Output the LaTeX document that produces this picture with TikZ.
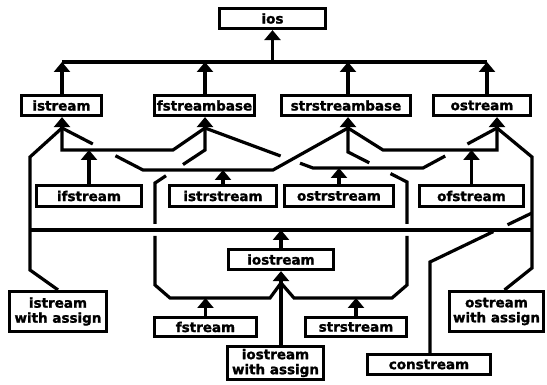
\documentclass[tikz,border=0pt]{standalone}
\usepackage{fontspec}
\setmainfont{DejaVu Sans}
\newfontfamily\boxfont{DejaVu Sans Bold}[FakeBold=1.5]
\usetikzlibrary{arrows.meta,calc}
\begin{document}
\begin{tikzpicture}[x=1pt,y=-1pt,
  cls/.style={draw,line width=3.2pt,inner sep=0pt,align=center,
    font=\boxfont\fontsize{13.5}{15}\selectfont},
  ln/.style={line width=3.2pt},
  up/.style={ln,-{Triangle[width=16pt,length=10pt]}},
]
\fill[white] (0,0) rectangle (547,385);
\path[use as bounding box] (0,0) rectangle (547,385);

% boxes
\node[cls,minimum width=106pt,minimum height=20pt] (ios) at (272.5,18.5) {ios};
\node[cls,minimum width=80pt,minimum height=20pt] (istream) at (61.5,105.5) {istream};
\node[cls,minimum width=100pt,minimum height=20pt] (fstreambase) at (204.5,105.5) {fstreambase};
\node[cls,minimum width=129pt,minimum height=20pt] (strstreambase) at (346,105.5) {strstreambase};
\node[cls,minimum width=97pt,minimum height=20pt] (ostream) at (482,105.5) {ostream};

\node[cls,minimum width=105pt,minimum height=21pt] (ifstream) at (89,196) {ifstream};
\node[cls,minimum width=107pt,minimum height=21pt] (istrstream) at (223,196) {istrstream};
\node[cls,minimum width=109pt,minimum height=21pt] (ostrstream) at (339,196) {ostrstream};
\node[cls,minimum width=104pt,minimum height=21pt] (ofstream) at (471.5,196) {ofstream};

\node[cls,minimum width=105pt,minimum height=20pt] (iostream) at (281,259.5) {iostream};

\node[cls,minimum width=97pt,minimum height=40pt] (iwa) at (58,311.5) {istream\\with assign};
\node[cls,minimum width=102pt,minimum height=19pt] (fstream) at (205.5,327) {fstream};
\node[cls,minimum width=101pt,minimum height=19pt] (strstream) at (356,327) {strstream};
\node[cls,minimum width=94pt,minimum height=40pt] (owa) at (496.5,311.5) {ostream\\with assign};
\node[cls,minimum width=96pt,minimum height=33pt] (ioa) at (275.5,363) {iostream\\with assign};
\node[cls,minimum width=123pt,minimum height=20pt] (con) at (429,364.5) {constream};

% coordinates
\coordinate (busC) at (272.5,62);
\coordinate (busL) at (62,62);
\coordinate (busR) at (487,62);
\coordinate (J1) at (62,128);
\coordinate (J2) at (205,128);
\coordinate (J3) at (348,128);
\coordinate (J4) at (497,128);
\coordinate (K1) at (62,150);
\coordinate (K2) at (173,150);
\coordinate (L1) at (143,170);
\coordinate (L2) at (273,170);
\coordinate (M1) at (313,168);
\coordinate (M2) at (423,168);
\coordinate (N1) at (383,150);
\coordinate (N2) at (497,150);
\coordinate (P1) at (30,157);
\coordinate (P2) at (30,270);
\coordinate (Q1) at (30,230);
\coordinate (Q2) at (532,230);
\coordinate (R1) at (532,157);
\coordinate (R2) at (532,268);
\coordinate (S0) at (205,150);
\coordinate (S1) at (155,183);
\coordinate (G1) at (155,224);
\coordinate (G2) at (155,236);
\coordinate (S2) at (155,285);
\coordinate (S3) at (170,298);
\coordinate (S4) at (270,298);
\coordinate (I) at (281,283);
\coordinate (T0) at (348,152);
\coordinate (T1) at (407,182);
\coordinate (H1) at (407,224);
\coordinate (H2) at (407,236);
\coordinate (T2) at (407,285);
\coordinate (T3) at (392,298);
\coordinate (T4) at (294,298);
\coordinate (U1) at (430,262);
\coordinate (U2) at (532,213);

% top level
\draw[up] (busC) -- (ios.south);
\draw[ln] (busL) -- (busR);
\draw[up] (istream.north -| busL) -- (busL);
\draw[up] (fstreambase.north -| J2) -- (J2 |- busL);
\draw[up] (strstreambase.north -| J3) -- (J3 |- busL);
\draw[up] (busR |- ostream.north) -- (busR);

% arrows into second-level parents
\draw[up] (J1) -- (J1 |- istream.south);
\draw[up] (J2) -- (J2 |- fstreambase.south);
\draw[up] (J3) -- (J3 |- strstreambase.south);
\draw[up] (J4) -- (J4 |- ostream.south);

% ifstream
\draw[ln] (J1) -- (K1) -- (K2) -- (J2);
\draw[up] (ifstream.north) -- (ifstream.north |- K1);
% istrstream
\draw[ln] (J1) -- ($(J1)!0.38!(L1)$);
\draw[ln] ($(J1)!0.66!(L1)$) -- (L1) -- (L2) -- (J3);
\draw[up] (istrstream.north) -- (istrstream.north |- L1);
% ostrstream
\draw[ln] (J2) -- ($(J2)!0.70!(M1)$);
\draw[ln] ($(J2)!0.88!(M1)$) -- (M1) -- (M2) -- ($(M2)!0.3!(J4)$);
\draw[ln] ($(M2)!0.6!(J4)$) -- (J4);
\draw[up] (ostrstream.north) -- (ostrstream.north |- M1);
% ofstream
\draw[ln] (J3) -- (N1) -- (N2) -- (J4);
\draw[up] (ofstream.north) -- (ofstream.north |- N1);

% istream with assign
\draw[ln] (J1) -- (P1) -- (P2) -- (iwa.north);
% iostream
\draw[ln] (Q1) -- (Q2);
\draw[up] (iostream.north) -- (iostream.north |- Q1);
% ostream with assign
\draw[ln] (J4) -- (R1) -- (R2) -- ($(owa.north)+(8,0)$);

% fstream
\draw[ln] (J2) -- (S0) -- ($(S0)!0.44!(S1)$);
\draw[ln] ($(S0)!0.78!(S1)$) -- (S1) -- (G1);
\draw[ln] (G2) -- (S2) -- (S3) -- (S4) -- (I);
\draw[up] (fstream.north) -- (fstream.north |- S3);
% strstream
\draw[ln] (J3) -- (T0) -- ($(T0)!0.36!(T1)$);
\draw[ln] ($(T0)!0.72!(T1)$) -- (T1) -- (H1);
\draw[ln] (H2) -- (T2) -- (T3) -- (T4) -- (I);
\draw[up] (strstream.north) -- (strstream.north |- T3);
% iostream with assign
\draw[up] (I) -- (I |- iostream.south);
\draw[ln] (I) -- (I |- ioa.north);
% constream
\draw[ln] (con.north -| U1) -- (U1) -- ($(U1)!0.62!(U2)$);
\draw[ln] ($(U1)!0.76!(U2)$) -- (U2);
\end{tikzpicture}
\end{document}
